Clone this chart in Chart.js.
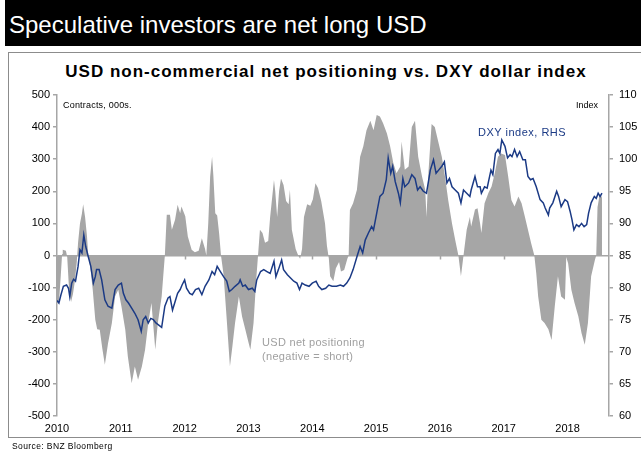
<!DOCTYPE html>
<html>
<head>
<meta charset="utf-8">
<script src="https://cdn.jsdelivr.net/npm/chart.js@4.4.1/dist/chart.umd.min.js"></script>
<style>
html,body{margin:0;padding:0;width:641px;height:452px;overflow:hidden;background:#fff;font-family:"Liberation Sans",Arial,sans-serif;}
#hdr{position:absolute;left:5px;top:0;width:636px;height:46px;background:#000;color:#fff;font-size:24px;line-height:50px;padding-left:4px;box-sizing:border-box;overflow:hidden;white-space:nowrap;}
#box{position:absolute;left:8px;top:52px;width:640px;height:386px;border:1px solid #8c8c8c;box-sizing:border-box;}
#ttl{position:absolute;left:0;width:652px;top:62px;text-align:center;font-weight:bold;font-size:17px;letter-spacing:1px;white-space:nowrap;}
#wrap{position:absolute;left:0;top:0;width:641px;height:452px;}
.t{position:absolute;white-space:nowrap;}
#contracts{left:63px;top:100px;font-size:9px;letter-spacing:0.2px;}
#index{left:576px;top:100px;font-size:9px;}
#dxylab{left:478px;top:126px;font-size:11px;color:#1b3a85;letter-spacing:0.5px;}
#poslab{left:262px;top:335px;font-size:11px;color:#a0a0a0;line-height:14px;letter-spacing:0.3px;}
#src{left:12px;top:441px;font-size:8.5px;letter-spacing:0.4px;}
</style>
</head>
<body>
<div id="hdr">Speculative investors are net long USD</div>
<div id="box"></div>
<div id="ttl">USD non-commercial net positioning vs. DXY dollar index</div>
<div id="wrap"><canvas id="c" width="641" height="452"></canvas></div>
<div class="t" id="contracts">Contracts, 000s.</div>
<div class="t" id="index">Index</div>
<div class="t" id="dxylab">DXY index, RHS</div>
<div class="t" id="poslab">USD net positioning<br>(negative = short)</div>
<div class="t" id="src">Source: BNZ Bloomberg</div>
<script>
// USD non-commercial net positioning (contracts, 000s)
const posYears = [
2010.00,2010.03,2010.06,2010.08,2010.09,2010.14,2010.16,2010.19,2010.22,2010.25,
2010.28,2010.31,2010.33,2010.36,2010.39,2010.41,2010.44,2010.47,2010.49,2010.52,
2010.56,2010.60,2010.63,2010.67,2010.71,2010.75,2010.80,2010.86,2010.91,2010.96,
2011.01,2011.07,2011.11,2011.17,2011.22,2011.27,2011.33,2011.38,2011.43,2011.48,
2011.54,2011.58,2011.64,2011.69,2011.72,2011.77,2011.80,2011.85,2011.89,2011.93,
2011.95,2012.01,2012.05,2012.11,2012.16,2012.22,2012.27,2012.32,2012.34,2012.37,
2012.40,2012.43,2012.45,2012.48,2012.51,2012.54,2012.57,2012.61,2012.66,2012.71,
2012.75,2012.79,2012.85,2012.90,2012.95,2013.00,2013.03,2013.08,2013.12,2013.15,
2013.18,2013.22,2013.26,2013.31,2013.34,2013.40,2013.42,2013.45,2013.48,2013.51,
2013.55,2013.59,2013.63,2013.65,2013.68,2013.74,2013.78,2013.81,2013.84,2013.87,
2013.92,2013.97,2014.01,2014.05,2014.09,2014.14,2014.20,2014.23,2014.26,2014.28,
2014.33,2014.37,2014.42,2014.45,2014.50,2014.55,2014.57,2014.59,2014.64,2014.70,
2014.75,2014.80,2014.85,2014.91,2014.96,2015.01,2015.06,2015.11,2015.17,2015.22,
2015.27,2015.32,2015.38,2015.40,2015.45,2015.51,2015.56,2015.61,2015.66,2015.72,
2015.77,2015.79,2015.82,2015.87,2015.92,2015.98,2016.03,2016.08,2016.13,2016.19,
2016.24,2016.29,2016.33,2016.37,2016.42,2016.47,2016.49,2016.55,2016.59,2016.63,
2016.65,2016.70,2016.76,2016.81,2016.86,2016.91,2016.96,2017.02,2017.07,2017.12,
2017.17,2017.23,2017.28,2017.33,2017.38,2017.43,2017.48,2017.51,2017.54,2017.59,
2017.64,2017.70,2017.75,2017.80,2017.85,2017.90,2017.96,2017.98,2018.01,2018.06,
2018.11,2018.17,2018.22,2018.27,2018.32,2018.37,2018.43,2018.45,2018.47,2018.50,
2018.52,2018.54];
const posValues = [
-145,-150,-60,5,18,15,-5,-110,-145,-120,
-80,-20,40,100,130,160,120,60,0,-34,
-107,-200,-230,-231,-290,-340,-273,-210,-128,-107,
-159,-231,-315,-398,-346,-387,-346,-294,-210,-148,
-294,-210,-128,0,127,127,80,111,158,132,
153,122,59,18,10,15,54,20,0,100,
246,308,250,132,125,70,0,-60,-200,-346,
-280,-210,-128,-190,-230,-270,-294,-210,-80,0,
80,70,40,45,120,235,200,120,200,240,
220,170,160,205,80,20,0,-10,20,120,
160,155,175,225,210,170,100,30,-10,-65,
-80,-40,-20,-50,-45,-10,0,142,163,205,
308,340,390,420,390,438,433,412,380,340,
288,256,277,355,267,277,400,420,308,246,
205,120,256,410,400,350,308,246,173,100,
48,0,-65,0,80,120,90,143,147,100,
70,163,195,215,256,308,318,313,246,173,
153,184,163,122,80,38,0,-55,-128,-200,
-210,-230,-263,-159,-65,-128,-138,-5,-25,-107,
-148,-190,-242,-278,-210,-65,-13,0,150,185,
190,180];

// DXY dollar index (right-hand scale)
const dxyYears = [
2010.00,2010.03,2010.06,2010.10,2010.15,2010.18,2010.20,2010.23,2010.26,2010.29,
2010.33,2010.36,2010.39,2010.42,2010.45,2010.49,2010.53,2010.57,2010.60,2010.62,
2010.66,2010.70,2010.75,2010.80,2010.86,2010.91,2010.96,2011.01,2011.04,2011.08,
2011.12,2011.17,2011.22,2011.27,2011.32,2011.35,2011.39,2011.43,2011.47,2011.51,
2011.55,2011.59,2011.64,2011.69,2011.74,2011.77,2011.81,2011.85,2011.89,2011.93,
2011.96,2012.00,2012.03,2012.08,2012.12,2012.17,2012.22,2012.27,2012.32,2012.38,
2012.43,2012.47,2012.51,2012.56,2012.61,2012.66,2012.70,2012.74,2012.79,2012.85,
2012.87,2012.91,2012.95,2013.00,2013.06,2013.10,2013.13,2013.19,2013.24,2013.29,
2013.34,2013.40,2013.43,2013.47,2013.52,2013.55,2013.61,2013.66,2013.71,2013.76,
2013.80,2013.84,2013.89,2013.95,2014.00,2014.06,2014.10,2014.15,2014.21,2014.26,
2014.31,2014.38,2014.44,2014.49,2014.54,2014.59,2014.64,2014.70,2014.75,2014.79,
2014.83,2014.88,2014.93,2014.96,2015.01,2015.06,2015.11,2015.16,2015.19,2015.23,
2015.26,2015.30,2015.35,2015.38,2015.42,2015.45,2015.51,2015.56,2015.61,2015.65,
2015.69,2015.74,2015.79,2015.85,2015.90,2015.94,2015.98,2016.03,2016.07,2016.11,
2016.15,2016.19,2016.24,2016.29,2016.33,2016.37,2016.42,2016.47,2016.49,2016.55,
2016.59,2016.63,2016.65,2016.70,2016.74,2016.80,2016.83,2016.87,2016.91,2016.94,
2016.97,2017.02,2017.06,2017.10,2017.13,2017.17,2017.21,2017.25,2017.30,2017.34,
2017.38,2017.42,2017.46,2017.51,2017.57,2017.62,2017.65,2017.70,2017.72,2017.77,
2017.83,2017.86,2017.90,2017.96,2018.00,2018.04,2018.07,2018.10,2018.14,2018.18,
2018.22,2018.26,2018.30,2018.33,2018.37,2018.42,2018.45,2018.48,2018.51,2018.54];
const dxyValues = [
78.0,77.6,78.8,80.2,80.4,79.9,78.6,80.7,81.3,81.0,
83.3,85.9,85.4,88.2,86.4,84.8,83.3,80.7,81.7,82.8,
82.8,81.2,78.1,77.1,76.8,79.7,80.4,80.7,79.1,78.1,
77.6,76.8,76.0,75.0,73.2,75.0,75.5,74.5,75.2,75.0,
74.5,74.2,73.8,77.1,78.4,78.6,76.5,77.8,79.1,79.7,
80.4,81.2,79.9,79.1,78.9,79.7,79.9,78.9,80.2,81.2,
82.5,82.0,83.3,82.5,81.7,81.0,79.4,79.7,80.2,80.7,
81.2,80.2,80.4,79.7,79.9,79.4,81.2,82.5,82.8,82.5,
82.2,84.1,81.7,82.8,84.3,82.8,82.0,81.5,81.0,80.7,
79.7,80.7,80.4,80.2,80.7,81.0,80.2,79.7,79.9,80.4,
80.2,80.2,80.4,80.2,80.7,81.5,82.8,84.8,86.4,85.4,
87.4,88.5,89.5,89.0,91.6,94.2,94.7,96.8,100.2,97.8,
98.9,96.5,94.7,93.2,97.0,95.7,96.3,97.6,97.0,95.2,
95.7,95.0,94.7,98.3,99.9,97.8,98.3,98.9,99.6,96.3,
97.0,95.7,95.2,94.7,93.2,95.2,94.7,94.2,95.2,97.3,
95.7,95.7,94.7,95.7,95.5,98.3,97.6,100.9,101.5,100.9,
103.0,102.0,100.2,100.7,100.4,101.5,100.4,101.2,99.9,99.9,
97.3,96.8,97.0,95.7,93.7,93.2,92.4,91.3,92.4,93.2,
95.0,94.2,92.6,93.7,93.4,91.9,90.6,89.0,89.8,89.5,
90.0,89.5,89.8,91.6,93.2,94.2,93.9,94.7,94.2,94.7];

const yearTicks = [2010,2011,2012,2013,2014,2015,2016,2017,2018];
const leftTicks = [-500,-400,-300,-200,-100,0,100,200,300,400,500];
const rightTicks = [60,65,70,75,80,85,90,95,100,105,110];

const AXIS_GREY = '#a6a6a6';
const FONT = '"Liberation Sans", Arial, sans-serif';

const zeroTicks = {
  id: 'zeroTicks',
  afterDatasetsDraw(chart) {
    const {ctx, scales} = chart;
    const y0 = scales.y.getPixelForValue(0);
    ctx.save();
    ctx.strokeStyle = AXIS_GREY;
    ctx.lineWidth = 1.5;
    yearTicks.forEach(t => {
      const px = Math.round(scales.x.getPixelForValue(t)) + 0.5;
      ctx.beginPath();
      ctx.moveTo(px, y0);
      ctx.lineTo(px, y0 + 4);
      ctx.stroke();
    });
    ctx.restore();
  }
};

new Chart(document.getElementById('c'), {
  type: 'line',
  data: {
    datasets: [
      {
        label: 'DXY index, RHS',
        data: dxyYears.map((x, i) => ({x, y: dxyValues[i]})),
        yAxisID: 'y2',
        borderColor: '#1b3a85',
        borderWidth: 1.5,
        pointRadius: 0,
        fill: false,
        tension: 0
      },
      {
        label: 'USD net positioning',
        data: posYears.map((x, i) => ({x, y: posValues[i]})),
        yAxisID: 'y',
        borderWidth: 0,
        borderColor: 'rgba(0,0,0,0)',
        backgroundColor: '#a6a6a6',
        pointRadius: 0,
        fill: 'origin',
        tension: 0
      }
    ]
  },
  options: {
    responsive: false,
    animation: false,
    layout: {padding: {top: 95, left: 0, right: 0, bottom: 0}},
    plugins: {legend: {display: false}, tooltip: {enabled: false}, title: {display: false}},
    scales: {
      x: {
        type: 'linear',
        min: 2010,
        max: 2018.65,
        position: 'bottom',
        afterBuildTicks: s => { s.ticks = yearTicks.map(v => ({value: v})); },
        ticks: {color: '#000', font: {family: FONT, size: 11}, padding: 6, maxRotation: 0, callback: v => String(v)},
        grid: {display: false, drawTicks: false},
        border: {display: false},
        afterFit: s => { s.height = 36; }
      },
      y: {
        type: 'linear',
        position: 'left',
        min: -500,
        max: 500,
        afterBuildTicks: s => { s.ticks = leftTicks.map(v => ({value: v})); },
        ticks: {color: '#000', font: {family: FONT, size: 11}, padding: 3},
        grid: {
          drawOnChartArea: true,
          color: c => (c.tick && c.tick.value === 0) ? AXIS_GREY : 'rgba(0,0,0,0)',
          lineWidth: 1.5,
          tickColor: AXIS_GREY,
          tickLength: 4
        },
        border: {display: true, color: AXIS_GREY, width: 1.5},
        afterFit: s => { s.width = 57; }
      },
      y2: {
        type: 'linear',
        position: 'right',
        min: 60,
        max: 110,
        afterBuildTicks: s => { s.ticks = rightTicks.map(v => ({value: v})); },
        ticks: {color: '#000', font: {family: FONT, size: 11}, padding: 6},
        grid: {drawOnChartArea: false, color: AXIS_GREY, tickColor: AXIS_GREY, tickLength: 4, lineWidth: 1.5},
        border: {display: true, color: AXIS_GREY, width: 1.5},
        afterFit: s => { s.width = 32; }
      }
    }
  },
  plugins: [zeroTicks]
});
</script>
</body>
</html>
